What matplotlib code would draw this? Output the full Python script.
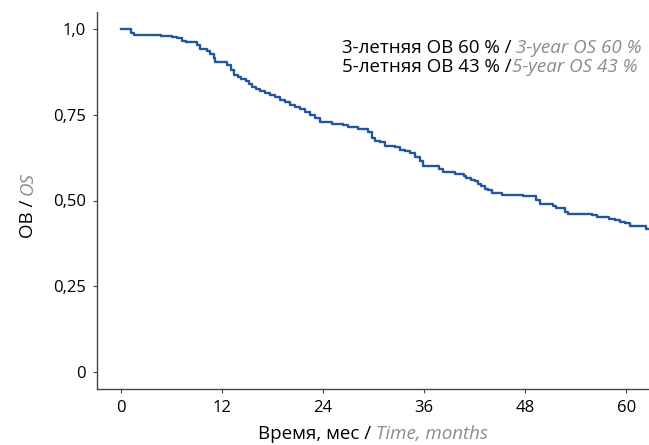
import numpy as np
import matplotlib
matplotlib.use("Agg")
import matplotlib.pyplot as plt

# Kaplan-Meier curve (months, survival)
times = [0, 1.2, 1.6, 4.8, 6.1, 6.6, 7.2, 7.7, 9.0, 9.4, 10.2, 10.6, 11.0, 11.2,
         12.6, 13.1, 13.4, 13.9, 14.3, 14.9, 15.2, 15.6, 16.0, 16.5, 17.1, 17.7,
         18.3, 18.9, 19.5, 20.1, 20.7, 21.3, 21.9, 22.4, 23.0, 23.6, 25.1, 26.4,
         27.0, 28.1, 29.3, 29.8, 30.2, 30.8, 31.4, 32.5, 33.1, 33.7, 34.3, 34.9,
         35.5, 35.9, 37.8, 38.2, 39.7, 40.7, 41.0, 41.6, 42.0, 42.4, 42.8, 43.2,
         43.6, 44.0, 45.3, 47.7, 49.3, 49.8, 51.3, 51.7, 52.7, 53.1, 55.9, 56.5,
         57.9, 58.7, 59.3, 59.9, 60.4, 62.4, 63.5]
surv = [1.0, 0.99, 0.983, 0.98, 0.977, 0.973, 0.966, 0.962, 0.953, 0.943, 0.937, 0.926, 0.915, 0.905,
        0.895, 0.881, 0.866, 0.861, 0.855, 0.850, 0.839, 0.830, 0.825, 0.820, 0.815, 0.808,
        0.801, 0.793, 0.786, 0.779, 0.772, 0.766, 0.759, 0.750, 0.740, 0.730, 0.724, 0.719,
        0.714, 0.709, 0.701, 0.682, 0.675, 0.670, 0.660, 0.655, 0.648, 0.643, 0.638, 0.628,
        0.614, 0.602, 0.592, 0.583, 0.578, 0.572, 0.566, 0.561, 0.556, 0.549, 0.541, 0.534,
        0.530, 0.522, 0.515, 0.512, 0.502, 0.491, 0.483, 0.478, 0.467, 0.461, 0.457, 0.451,
        0.447, 0.442, 0.438, 0.433, 0.425, 0.417, 0.417]

xticks = [0, 12, 24, 36, 48, 60]
yticks = [0, 0.25, 0.5, 0.75, 1.0]
ytick_labels = ["0", "0,25", "0,50", "0,75", "1,0"]

plt.rcParams['font.family'] = ['Open Sans', 'DejaVu Sans']
gray = "#8c8c8c"
fs = 13.5   # annotation / axis titles
fs_tick = 12

fig = plt.figure(figsize=(6.49, 4.45), dpi=100)
ax = fig.add_axes([97/649, 56/445, 552/649, 377/445])

ax.step(times, surv, where='post', color="#23579b", lw=1.7)

ax.set_xlim(-2.85, 62.7)
ax.set_ylim(-0.05, 1.05)
ax.set_xticks(xticks)
ax.set_yticks(yticks)
ax.set_yticklabels(ytick_labels)
ax.tick_params(labelsize=fs_tick, length=3, color="#444444", pad=5)
for s in ["top", "right"]:
    ax.spines[s].set_visible(False)
for s in ["left", "bottom"]:
    ax.spines[s].set_color("#444444")
    ax.spines[s].set_linewidth(1.0)

# annotation, black + gray italic pieces
a1 = fig.text(342/649, 1 - 53/445, "3-летняя ОВ 60 % / ", fontsize=fs, va='baseline')
ax.annotate("3-year OS 60 %", xy=(1, 0), xycoords=a1, va='bottom',
            fontsize=fs, color=gray, style='italic')
a2 = fig.text(342/649, 1 - 72/445, "5-летняя ОВ 43 % /", fontsize=fs, va='baseline')
ax.annotate("5-year OS 43 %", xy=(1, 0), xycoords=a2, va='bottom',
            fontsize=fs, color=gray, style='italic')

# x label
xl = fig.text(258/649, 1 - 439/445, "Время, мес / ", fontsize=fs, va='baseline')
ax.annotate("Time, months", xy=(1, 0), xycoords=xl, va='bottom',
            fontsize=fs, color=gray, style='italic')

# y label (rotated)
yl = fig.text(28/649, 1 - 238/445, "ОВ / ", fontsize=fs, rotation=90,
              ha='center', va='bottom')
ax.annotate("OS", xy=(0.5, 1), xycoords=yl, ha='center', va='bottom',
            rotation=90, fontsize=fs, color=gray, style='italic')

fig.savefig("out.png", dpi=100)
